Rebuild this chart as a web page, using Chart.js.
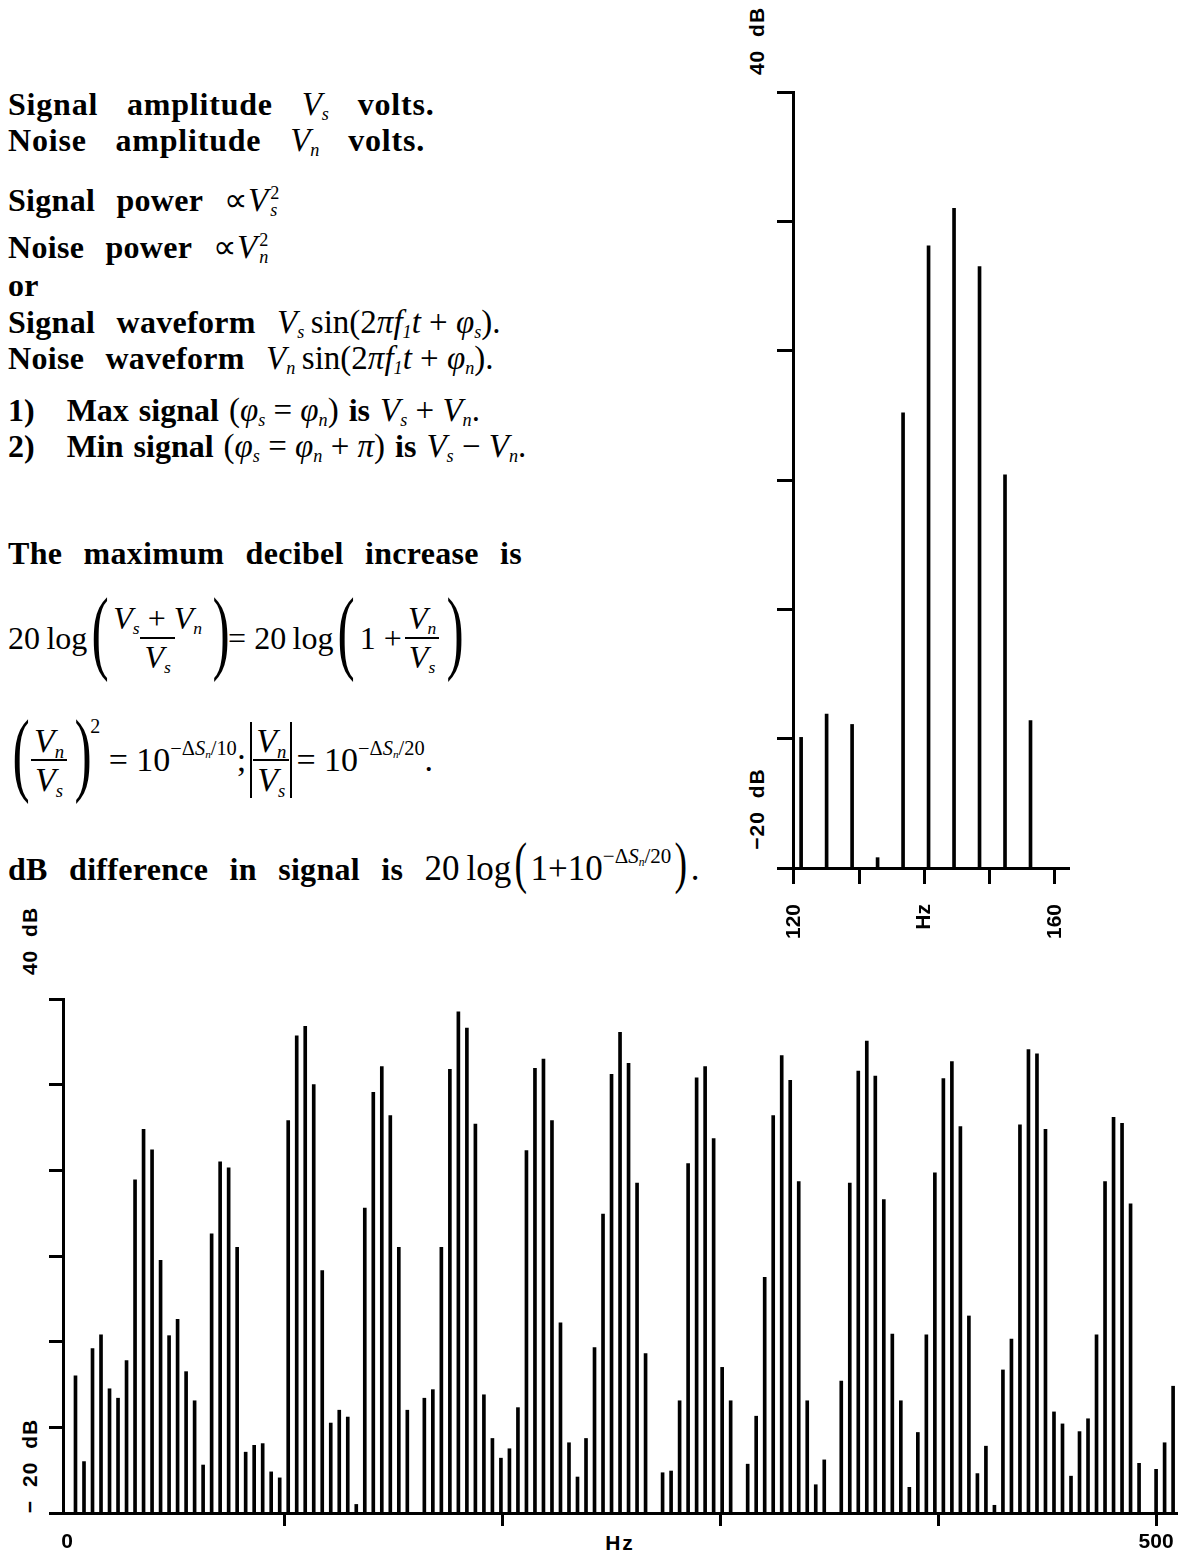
<!DOCTYPE html>
<html>
<head>
<meta charset="utf-8">
<title>Signal plus noise – spectrum</title>
<script src="https://cdn.jsdelivr.net/npm/chart.js@4.4.1/dist/chart.umd.min.js"></script>
<style>
  html, body { margin: 0; padding: 0; background: #fff; }
  body { width: 1200px; height: 1552px; position: relative; overflow: hidden;
         font-family: "Liberation Serif", "Times New Roman", serif; color: #000; }

  /* text block */
  .ln { position: absolute; left: 8px; font-size: 32px; font-weight: bold; line-height: 32px;
        white-space: nowrap; word-spacing: 13px; letter-spacing: 0.3px; }
  .ln.wide { word-spacing: 20px; letter-spacing: 0.8px; }
  .ln.tight { word-spacing: 2px; letter-spacing: 0; }
  .m  { font-weight: normal; word-spacing: 0; letter-spacing: 0; font-size: 33px; }
  sub { font-size: 0.55em; vertical-align: -0.3em; line-height: 0; font-style: italic; }
  sup { font-size: 0.6em; vertical-align: 0.8em; line-height: 0; }
  .scr { display: inline-flex; flex-direction: column; font-size: 0.55em; line-height: 0.95;
         vertical-align: 0.65em; margin-left: 2px; }
  .scr > span + span { font-style: italic; }
  .eq  { position: absolute; left: 8px; display: flex; align-items: center; font-size: 34px;
         font-weight: normal; white-space: nowrap; }
  .frac { display: inline-flex; flex-direction: column; align-items: center; margin: 0 2px; }
  .frac > span { padding: 0 4px; line-height: 37px; }
  .frac > .den { border-top: 2px solid #000; }
  .abs { border-left: 2px solid #000; border-right: 2px solid #000; margin: 0 4px; }
  .bp { display: inline-block; font-size: 94px; line-height: 94px; width: 20px; text-align: center;
        transform: translateY(-8px) scaleX(0.55); }
  .mp { display: inline-block; font-size: 58px; line-height: 30px; transform: translateY(2px) scaleX(0.65); }
  .hi { align-self: flex-start; font-size: 20px; margin-top: 0; }

  /* rotated axis captions */
  .axlab { position: absolute; font-family: "Liberation Sans", Arial, sans-serif; font-weight: bold;
           font-size: 21px; letter-spacing: 1px; word-spacing: 6px; white-space: nowrap;
           transform: translate(-50%, -50%) rotate(-90deg); }
  .hz { position: absolute; font-family: "Liberation Sans", Arial, sans-serif; font-weight: bold;
        font-size: 21px; letter-spacing: 2px; transform: translate(-50%, -50%); }

  #wrapTop { position: absolute; left: 700px; top: 0; width: 500px; height: 960px; }
  #wrapBot { position: absolute; left: 0; top: 980px; width: 1200px; height: 572px; }
</style>
</head>
<body>

<div class="ln wide" style="top:88px">Signal amplitude <span class="m"><i>V</i><sub>s</sub></span> volts.</div>
<div class="ln wide" style="top:124px">Noise amplitude <span class="m"><i>V</i><sub>n</sub></span> volts.</div>

<div class="ln" style="top:184px">Signal power <span class="m">&prop;<i>V</i><span class="scr"><span>2</span><span>s</span></span></span></div>
<div class="ln" style="top:231px">Noise power <span class="m">&prop;<i>V</i><span class="scr"><span>2</span><span>n</span></span></span></div>
<div class="ln" style="top:269px">or</div>
<div class="ln" style="top:306px">Signal waveform <span class="m"><i>V</i><sub>s</sub>&thinsp;sin(2<i>&pi;f</i><sub>1</sub><i>t</i> + <i>&phi;</i><sub>s</sub>).</span></div>
<div class="ln" style="top:342px">Noise waveform <span class="m"><i>V</i><sub>n</sub>&thinsp;sin(2<i>&pi;f</i><sub>1</sub><i>t</i> + <i>&phi;</i><sub>n</sub>).</span></div>

<div class="ln tight" style="top:394px">1)&emsp;Max signal <span class="m">(<i>&phi;</i><sub>s</sub> = <i>&phi;</i><sub>n</sub>)</span> is <span class="m"><i>V</i><sub>s</sub> + <i>V</i><sub>n</sub>.</span></div>
<div class="ln tight" style="top:430px">2)&emsp;Min signal <span class="m">(<i>&phi;</i><sub>s</sub> = <i>&phi;</i><sub>n</sub> + <i>&pi;</i>)</span> is <span class="m"><i>V</i><sub>s</sub> &minus; <i>V</i><sub>n</sub>.</span></div>

<div class="ln" style="top:537px">The maximum decibel increase is</div>

<div class="eq" style="top:593px;height:90px;font-size:32px">
  <span>20&thinsp;log</span>
  <span class="bp">(</span>
  <span class="frac"><span><i>V</i><sub>s</sub> + <i>V</i><sub>n</sub></span><span class="den"><i>V</i><sub>s</sub></span></span>
  <span class="bp">)</span>
  <span>= 20&thinsp;log</span>
  <span class="bp">(</span>
  <span>&thinsp;1 +</span>
  <span class="frac"><span><i>V</i><sub>n</sub></span><span class="den"><i>V</i><sub>s</sub></span></span>
  <span class="bp">)</span>
</div>

<div class="eq" style="top:715px;height:90px">
  <span class="bp">(</span>
  <span class="frac"><span><i>V</i><sub>n</sub></span><span class="den"><i>V</i><sub>s</sub></span></span>
  <span class="bp">)</span>
  <span class="hi">2</span>
  <span>&nbsp;= 10<sup>&minus;&Delta;<i>S</i><sub>n</sub>/10</sup>;</span>
  <span class="frac abs"><span><i>V</i><sub>n</sub></span><span class="den"><i>V</i><sub>s</sub></span></span>
  <span>= 10<sup>&minus;&Delta;<i>S</i><sub>n</sub>/20</sup>.</span>
</div>

<div class="ln" style="top:846px">dB difference in signal is <span class="m" style="font-size:35px">20&thinsp;log<span class="mp">(</span>1+10<sup>&minus;&Delta;<i>S</i><sub>n</sub>/20</sup><span class="mp">)</span>.</span></div>

<div class="axlab" style="left:757px;top:41px">40 dB</div>
<div class="axlab" style="left:757px;top:809px">&minus;20 dB</div>
<div class="axlab" style="left:30px;top:941px">40 dB</div>
<div class="axlab" style="left:30px;top:1466px">&minus; 20 dB</div>
<div class="hz" style="left:620px;top:1543px">Hz</div>

<div id="wrapTop"><canvas id="zoom-chart" width="500" height="960"></canvas></div>
<div id="wrapBot"><canvas id="full-chart" width="1200" height="572"></canvas></div>

<script>
/* ---------------------------------------------- data ---------------------------------------------- */
// spectrum lines sit on FFT bins of 1000/256 Hz; the full plot shows bins 1..130
const BIN_HZ = 1000 / 256;
const FULL_FIRST_BIN = 1;
// dB level of each line (null = nothing above -20 dB)
const FULL_DB = [
  -4.0, -14.0, -0.8, 0.8, -5.5, -6.6, -2.2, 18.9, 24.8, 22.4,
  9.5, 0.7, 2.6, -3.5, -6.9, -14.4, 12.6, 21.0, 20.3, 11.0,
  -12.9, -12.1, -11.9, -15.2, -15.9, 25.8, 35.7, 36.8, 30.0, 8.3,
  -9.5, -8.0, -8.8, -19.0, 15.6, 29.1, 32.1, 26.4, 11.0, -8.0,
  null, -6.6, -5.6, 11.0, 31.8, 38.5, 36.6, 25.4, -6.2, -11.3,
  -13.6, -12.5, -7.7, 22.3, 31.9, 33.0, 25.8, 2.2, -11.8, -15.8,
  -11.3, -0.7, 14.9, 31.2, 36.1, 32.5, 18.5, -1.4, null, -15.3,
  -15.1, -6.9, 20.8, 30.8, 32.1, 23.7, -3.0, -6.9, null, -14.3,
  -8.7, 7.5, 26.4, 33.4, 30.5, 18.7, -6.9, -16.7, -13.8, null,
  -4.6, 18.5, 31.6, 35.1, 31.0, 16.6, 0.9, -6.9, -17.0, -10.6,
  0.8, 19.7, 30.7, 32.7, 25.1, 3.0, -15.4, -12.2, -19.1, -3.3,
  0.3, 25.3, 34.1, 33.6, 24.8, -8.2, -9.6, -15.7, -10.5, -9.0,
  0.8, 18.7, 26.2, 25.5, 16.1, -14.2, null, -14.9, -11.8, -5.2
];
// the upper plot enlarges 120..160 Hz (bins 31..40)
const ZOOM_FIRST_BIN = 31;
const ZOOM_DB = [-9.9, -8.1, -8.9, -19.2, 15.2, 28.1, 31.0, 26.5, 10.4, -8.6];

const DB_TICKS = [-20, -10, 0, 10, 20, 30, 40];
const FULL_TICKS = [0, 100, 200, 300, 400, 500];
const FULL_TICK_LABELS = ['0', '', '', '', '', '500'];
const ZOOM_TICKS = [120, 130, 140, 150, 160];
const ZOOM_TICK_LABELS = ['120', '', 'Hz', '', '160'];

(function () {
  'use strict';

  const INK = '#000';
  const AXIS_FONT = { family: '"Liberation Sans", Arial, sans-serif', size: 21, weight: 'bold' };

  function lines(values, firstBin) {
    return values.map((v, i) => ({ x: (firstBin + i) * BIN_HZ, y: v }));
  }

  function fixedTicks(list) {
    return function (scale) { scale.ticks = list.map(v => ({ value: v })); };
  }

  function labelFrom(ticks, labels) {
    return function (value) {
      const i = ticks.indexOf(value);
      return i < 0 ? '' : labels[i];
    };
  }

  /* ------------------------------------------ chart builder ----------------------------------------- */
  function spectrum(id, cfg) {
    const ctx = document.getElementById(id).getContext('2d');
    return new Chart(ctx, {
      type: 'bar',
      data: {
        datasets: [{
          data: cfg.data,
          backgroundColor: INK,
          borderWidth: 0,
          barThickness: 3,
          base: -20
        }]
      },
      options: {
        responsive: false,
        animation: false,
        events: [],
        layout: { padding: cfg.padding },
        plugins: { legend: { display: false }, tooltip: { enabled: false } },
        scales: {
          x: {
            type: 'linear',
            min: cfg.xMin,
            max: cfg.xMax,
            offset: false,
            afterBuildTicks: fixedTicks(cfg.xTicks),
            afterFit: function (s) { s.height = cfg.xAxisHeight; },
            border: { display: true, color: INK, width: 3 },
            grid: {
              offset: false,
              drawOnChartArea: false,
              drawTicks: true,
              tickLength: cfg.xTickLength,
              tickWidth: 3,
              tickColor: cfg.xTickColor || INK
            },
            ticks: {
              autoSkip: false,
              color: INK,
              font: AXIS_FONT,
              padding: cfg.xLabelPad,
              minRotation: cfg.rotate,
              maxRotation: cfg.rotate,
              callback: labelFrom(cfg.xTicks, cfg.xLabels)
            }
          },
          y: {
            type: 'linear',
            min: -20,
            max: 40,
            position: { x: cfg.yAxisAt },
            afterBuildTicks: fixedTicks(DB_TICKS),
            border: { display: true, color: INK, width: 3 },
            grid: {
              drawOnChartArea: false,
              drawTicks: true,
              tickLength: cfg.yTickLength,
              tickWidth: 3,
              tickColor: INK
            },
            ticks: { display: false }
          }
        }
      }
    });
  }

  /* --------------------------------------------- render --------------------------------------------- */
  // 120 Hz at x=794 px, 6.525 px/Hz; axis line runs 778..1069, plot top 92, bottom 868
  spectrum('zoom-chart', {
    data: lines(ZOOM_DB, ZOOM_FIRST_BIN),
    padding: { left: 78, top: 92, right: 131, bottom: 0 },
    xMin: 117.55, xMax: 162.15, yAxisAt: 120,
    xTicks: ZOOM_TICKS, xLabels: ZOOM_TICK_LABELS,
    xAxisHeight: 92, xTickLength: 16, yTickLength: 15,
    xLabelPad: 20, rotate: 90
  });

  // 0 Hz at x=67 px, 2.178 px/Hz; axis line runs 55..1177, plot top 999, bottom 1513
  spectrum('full-chart', {
    data: lines(FULL_DB, FULL_FIRST_BIN),
    padding: { left: 55, top: 19, right: 23, bottom: 0 },
    xMin: -5.5, xMax: 509.6, yAxisAt: -1.4,
    xTicks: FULL_TICKS, xLabels: FULL_TICK_LABELS,
    xAxisHeight: 39, xTickLength: 13, yTickLength: 13,
    xLabelPad: 4, rotate: 0,
    xTickColor: ctx => (ctx.tick && ctx.tick.value === 0 ? 'rgba(0,0,0,0)' : INK)
  });
})();
</script>
</body>
</html>
